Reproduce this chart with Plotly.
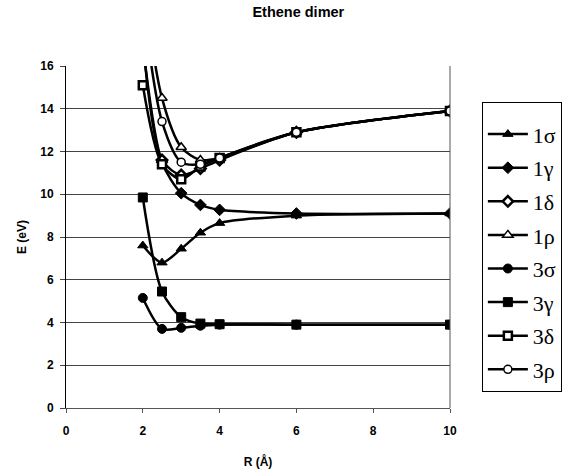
import plotly.graph_objects as go

R = [2, 2.5, 3, 3.5, 4, 6, 10]

s1_sigma = [7.6, 6.8, 7.45, 8.2, 8.65, 9.0, 9.1]
s1_gamma = [17.0, 11.5, 10.05, 9.5, 9.27, 9.1, 9.1]
s1_delta = [17.2, 11.6, 10.9, 11.2, 11.6, 12.9, 13.9]
s1_rho = [20.0, 14.5, 12.2, 11.6, 11.7, 12.9, 13.9]
s3_sigma = [5.15, 3.7, 3.75, 3.85, 3.9, 3.9, 3.9]
s3_gamma = [9.85, 5.45, 4.25, 3.95, 3.92, 3.9, 3.9]
s3_delta = [15.1, 11.4, 10.7, 11.3, 11.7, 12.9, 13.9]
s3_rho = [19.0, 13.4, 11.5, 11.4, 11.7, 12.9, 13.9]

names = ["1σ", "1γ", "1δ", "1ρ", "3σ", "3γ", "3δ", "3ρ"]
series = [s1_sigma, s1_gamma, s1_delta, s1_rho, s3_sigma, s3_gamma, s3_delta, s3_rho]

markers = [
    dict(symbol="triangle-up", size=9, color="black", line=dict(color="black", width=1)),
    dict(symbol="diamond", size=9, color="black", line=dict(color="black", width=1)),
    dict(symbol="diamond", size=8, color="white", line=dict(color="black", width=2.5)),
    dict(symbol="triangle-up", size=9, color="white", line=dict(color="black", width=1.5)),
    dict(symbol="circle", size=9, color="black", line=dict(color="black", width=1)),
    dict(symbol="square", size=9, color="black", line=dict(color="black", width=1)),
    dict(symbol="square", size=8, color="white", line=dict(color="black", width=2.5)),
    dict(symbol="circle", size=8, color="white", line=dict(color="black", width=1.5)),
]

fig = go.Figure()
for i, (n, ys) in enumerate(zip(names, series)):
    fig.add_trace(go.Scatter(
        x=R, y=ys, name=n, mode="lines+markers",
        line=dict(color="black", width=2.5, shape="spline", smoothing=0.8),
        marker=markers[i], legendgroup=str(i), cliponaxis=True,
    ))

fig.update_layout(
    width=577, height=470,
    margin=dict(l=66, r=127, t=66, b=62, autoexpand=False),
    paper_bgcolor="white", plot_bgcolor="white",
    title=dict(text="Ethene dimer", x=0.517, xanchor="center", y=0.974, yanchor="middle",
               automargin=False,
               font=dict(family="Liberation Sans, Arial", size=14.5, color="black", weight="bold")),
    font=dict(family="Liberation Sans, Arial", color="black"),
    xaxis=dict(range=[0, 10], tickvals=[0, 2, 4, 6, 8, 10], showgrid=False, zeroline=False,
               showline=True, linecolor="#555", linewidth=1, mirror=False, automargin=False,
               ticks="outside", ticklen=4, tickcolor="#555", ticklabelstandoff=8,
               tickfont=dict(size=12, weight="bold"),
               title=dict(text="R (Å)", font=dict(size=12, weight="bold"), standoff=20)),
    yaxis=dict(range=[0, 16], tickvals=[0, 2, 4, 6, 8, 10, 12, 14, 16], showgrid=True,
               gridcolor="#444", gridwidth=1, zeroline=False, automargin=False,
               showline=True, linecolor="black", linewidth=1,
               ticks="outside", ticklen=5, tickcolor="#444", ticklabelstandoff=4,
               tickfont=dict(size=12, weight="bold"),
               title=dict(text="E (eV)", font=dict(size=12, weight="bold"), standoff=11)),
    legend=dict(x=1.083, xanchor="left", y=0.895, yanchor="top",
                bordercolor="black", borderwidth=1, bgcolor="white",
                font=dict(family="Liberation Serif, Times New Roman", size=22, color="black"),
                title=dict(text="&nbsp;", font=dict(size=8)),
                tracegroupgap=2, itemwidth=40),
    showlegend=True,
)
fig.add_shape(type="line", xref="paper", yref="paper", x0=1, x1=1, y0=0, y1=1,
              line=dict(color="#555", width=1))

fig.write_html("out.html", config={"displayModeBar": False},
               post_script="document.body.style.margin='0';")
